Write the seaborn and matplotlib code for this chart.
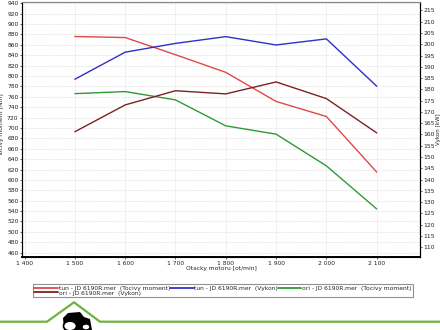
import matplotlib
matplotlib.use("Agg")
import matplotlib.pyplot as plt
from matplotlib.lines import Line2D
from matplotlib.patches import Polygon, Circle
import numpy as np
import pandas as pd
import seaborn as sns

# Engine speed [ot/min]
rpm = [1500, 1600, 1700, 1800, 1900, 2000, 2100]

# Torque [Nm] and power [kW] for the tuned and original maps
tun_torque = [876, 874, 841, 807, 751, 722, 615]
tun_power = [184.5, 196.5, 200.4, 203.4, 199.7, 202.4, 181.4]
ori_torque = [766, 770, 754, 704, 688, 627, 544]
ori_power = [161.2, 173.1, 179.4, 178.0, 183.3, 175.9, 160.7]

x_ticks = [1400, 1500, 1600, 1700, 1800, 1900, 2000, 2100]
x_tick_labels = ["1 400", "1 500", "1 600", "1 700", "1 800", "1 900", "2 000", "2 100"]
torque_ticks = list(range(460, 941, 20))
power_ticks = list(range(110, 216, 5))

lbl_tun_t = "tun - JD 6190R.mer  (Tocivy moment)"
lbl_tun_p = "tun - JD 6190R.mer  (Vykon)"
lbl_ori_t = "ori - JD 6190R.mer  (Tocivy moment)"
lbl_ori_p = "ori - JD 6190R.mer  (Vykon)"

c_tun_t = "#e04848"
c_tun_p = "#3030c8"
c_ori_t = "#2f9a35"
c_ori_p = "#7a2226"

sns.set_theme(style="white")
plt.rcParams["font.family"] = ["DejaVu Sans"]
fs = 4.3

df = pd.DataFrame({
    "rpm": rpm,
    "tun_t": tun_torque, "tun_p": tun_power,
    "ori_t": ori_torque, "ori_p": ori_power,
})

fig = plt.figure(figsize=(4.4, 3.3), dpi=100)
fig.patch.set_facecolor("white")
W, H = 440.0, 330.0
left, right, top, bottom = 22, 420, 1.7, 257.3
ax = fig.add_axes([left / W, 1 - bottom / H, (right - left) / W, (bottom - top) / H])
ax2 = ax.twinx()

sns.lineplot(data=df, x="rpm", y="tun_t", ax=ax, color=c_tun_t, lw=1.0)
sns.lineplot(data=df, x="rpm", y="ori_t", ax=ax, color=c_ori_t, lw=1.0)
sns.lineplot(data=df, x="rpm", y="tun_p", ax=ax2, color=c_tun_p, lw=1.0)
sns.lineplot(data=df, x="rpm", y="ori_p", ax=ax2, color=c_ori_p, lw=1.0)

ax.set_xlim(1395, 2186)
ax.set_ylim(451, 943)
ax2.set_ylim(105.5, 218.9)

ax.set_xticks(x_ticks)
ax.set_xticklabels(x_tick_labels)
ax.set_yticks(torque_ticks)
ax.set_yticklabels([str(v) for v in torque_ticks])
ax2.set_yticks(power_ticks)
ax2.set_yticklabels([str(v) for v in power_ticks])

for a in (ax, ax2):
    a.tick_params(axis="both", labelsize=fs, length=1.5, width=0.5, pad=1.0,
                  colors="#222222", direction="out")
ax.tick_params(axis="y", left=True)
ax.tick_params(axis="x", bottom=True)
ax2.tick_params(axis="y", right=True)

ax.grid(True, color="#d8d8d8", linestyle=(0, (1, 1)), lw=0.5)
ax2.grid(False)

for a in (ax, ax2):
    for s in a.spines.values():
        s.set_color("black")
        s.set_linewidth(0.8)
ax.spines["bottom"].set_linewidth(1.4)
ax.spines["top"].set_color("#888888")
ax2.spines["top"].set_color("#888888")

ax.set_xlabel("Otacky motoru [ot/min]", fontsize=fs, color="#222222")
ax.xaxis.set_label_coords(0.5, -0.035)
ax.set_ylabel("Tocivy moment [Nm]", fontsize=fs, color="#222222")
ax.yaxis.set_label_coords(-0.045, 0.52)
ax2.set_ylabel("Vykon [kW]", fontsize=4.0, color="#222222", rotation=90)
ax2.yaxis.set_label_coords(1.039, 0.5)

handles = [
    Line2D([], [], color=c_tun_t, lw=1.3),
    Line2D([], [], color=c_ori_p, lw=1.3),
    Line2D([], [], color=c_tun_p, lw=1.3),
    Line2D([], [], color=c_ori_t, lw=1.3),
]
labels = [lbl_tun_t, lbl_ori_p, lbl_tun_p, lbl_ori_t]
leg = fig.legend(handles, labels, ncol=3, mode="expand", loc="lower left",
                 bbox_to_anchor=(33 / W, 1 - 297 / H, 380 / W, 15 / H),
                 fontsize=fs, handlelength=4.0, handletextpad=0.1,
                 labelspacing=-0.1, borderpad=0.25, borderaxespad=0,
                 frameon=True, fancybox=False, columnspacing=0.5)
leg.get_frame().set_edgecolor("#777777")
leg.get_frame().set_linewidth(0.8)

# Footer: green rule with a peak, and a small tractor emblem
fx = np.array([0, 47, 74, 100, 440]) / W
fy = 1 - np.array([321.7, 321.7, 302.3, 321.7, 321.7]) / H
fig.add_artist(Line2D(fx, fy, color="#6cb33f", lw=1.6, transform=fig.transFigure))

def fpt(x, y):
    return (x / W, 1 - y / H)

cab = Polygon([fpt(64, 330), fpt(63, 318), fpt(68, 313), fpt(80, 312),
               fpt(84, 317), fpt(90, 319), fpt(92, 330)],
              closed=True, facecolor="black", edgecolor="none",
              transform=fig.transFigure)
fig.add_artist(cab)
fig.add_artist(Circle(fpt(70, 326), 6.5 / W, facecolor="white", edgecolor="black",
                      lw=1.2, transform=fig.transFigure))
fig.add_artist(Circle(fpt(86, 327), 4 / W, facecolor="white", edgecolor="black",
                      lw=1.0, transform=fig.transFigure))

fig.savefig("out.png", dpi=100, facecolor="white")
